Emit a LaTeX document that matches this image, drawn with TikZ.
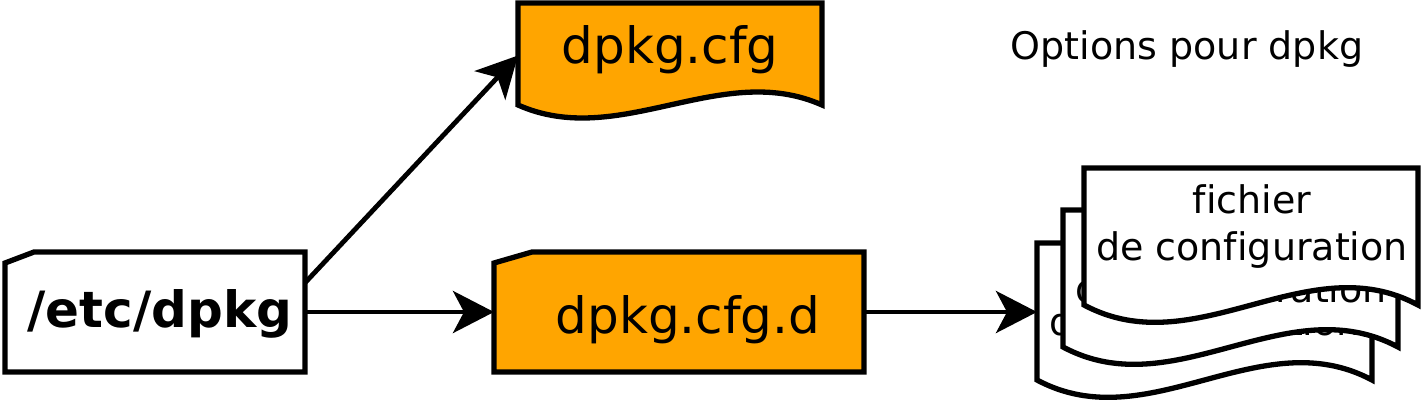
\documentclass[tikz,border=0pt]{standalone}
\usepackage{fontspec}
\setmainfont{DejaVu Sans}[Ligatures=NoCommon]
\usetikzlibrary{arrows.meta}
\definecolor{boxorange}{RGB}{255,165,0}
\tikzset{
  outline/.style={line width=5.3pt, line join=miter},
  anchorbox/.style={draw=none, inner sep=0pt, outer sep=0pt, rectangle},
  bigtext/.style={inner sep=0pt, anchor=base, font=\fontsize{50}{60}\selectfont},
  boldtext/.style={inner sep=0pt, anchor=base, font=\fontsize{50}{60}\selectfont\bfseries},
  smalltext/.style={inner sep=0pt, anchor=base, font=\fontsize{38}{47}\selectfont},
  conn/.style={line width=4.8pt, -{Stealth[length=41pt, width=42pt, inset=11pt]}},
}
\begin{document}
\begin{tikzpicture}[x=1pt, y=-1pt]
\useasboundingbox (0,0) rectangle (1423,405);

% /etc/dpkg folder
\draw[outline, fill=white] (5,372) -- (5,263) -- (34,252) -- (305,252) -- (305,372) -- cycle;
\node[anchorbox, minimum width=300pt, minimum height=120pt] (etc) at (155,312) {};
\node[boldtext] (etcL) at (160,327) {/etc/dpkg};

% dpkg.cfg.d folder
\draw[outline, fill=boxorange] (494,372) -- (494,263) -- (532,252) -- (864,252) -- (864,372) -- cycle;
\node[anchorbox, minimum width=370pt, minimum height=120pt] (cfgd) at (679,312) {};
\node[bigtext] (cfgdL) at (688,333) {dpkg.cfg.d};

% dpkg.cfg document
\draw[outline, fill=boxorange] (518,3) -- (822,3) -- (822,105)
  .. controls (721,60) and (619,150) .. (518,105) -- cycle;
\node[anchorbox, minimum width=304pt, minimum height=103pt] (cfg) at (670,55.5) {};
\node[bigtext] (cfgL) at (670,63) {dpkg.cfg};

% Options pour dpkg
\node[smalltext] (opt) at (1187,59) {Options pour dpkg};

% stack of documents: back
\draw[outline, fill=white] (1037,243) -- (1372,243) -- (1372,380)
  .. controls (1260,320) and (1149,440) .. (1037,380) -- cycle;
\node[anchorbox, minimum width=335pt, minimum height=138pt] (doc3) at (1204.5,312) {};
\node[smalltext] (doc3a) at (1205,288) {fichier};
\node[smalltext] (doc3b) at (1205,335) {de configuration};

% middle
\draw[outline, fill=white] (1063,210) -- (1398,210) -- (1398,347)
  .. controls (1286,287) and (1175,407) .. (1063,347) -- cycle;
\node[anchorbox, minimum width=335pt, minimum height=138pt] (doc2) at (1230.5,279) {};
\node[smalltext] (doc2a) at (1231,255) {fichier};
\node[smalltext] (doc2b) at (1231,302) {de configuration};

% front
\draw[outline, fill=white] (1084,168) -- (1418,168) -- (1418,305)
  .. controls (1307,245) and (1196,365) .. (1084,305) -- cycle;
\node[anchorbox, minimum width=334pt, minimum height=138pt] (doc1) at (1251,237) {};
\node[smalltext] (doc1a) at (1252,213) {fichier};
\node[smalltext] (doc1b) at (1252,260) {de configuration};

% connectors
\draw[conn] (etc.11.3) -- (cfg.west);
\draw[conn] (etc.east) -- (cfgd.west);
\draw[conn] (cfgd.east) -- (doc3.west);
\end{tikzpicture}
\end{document}
